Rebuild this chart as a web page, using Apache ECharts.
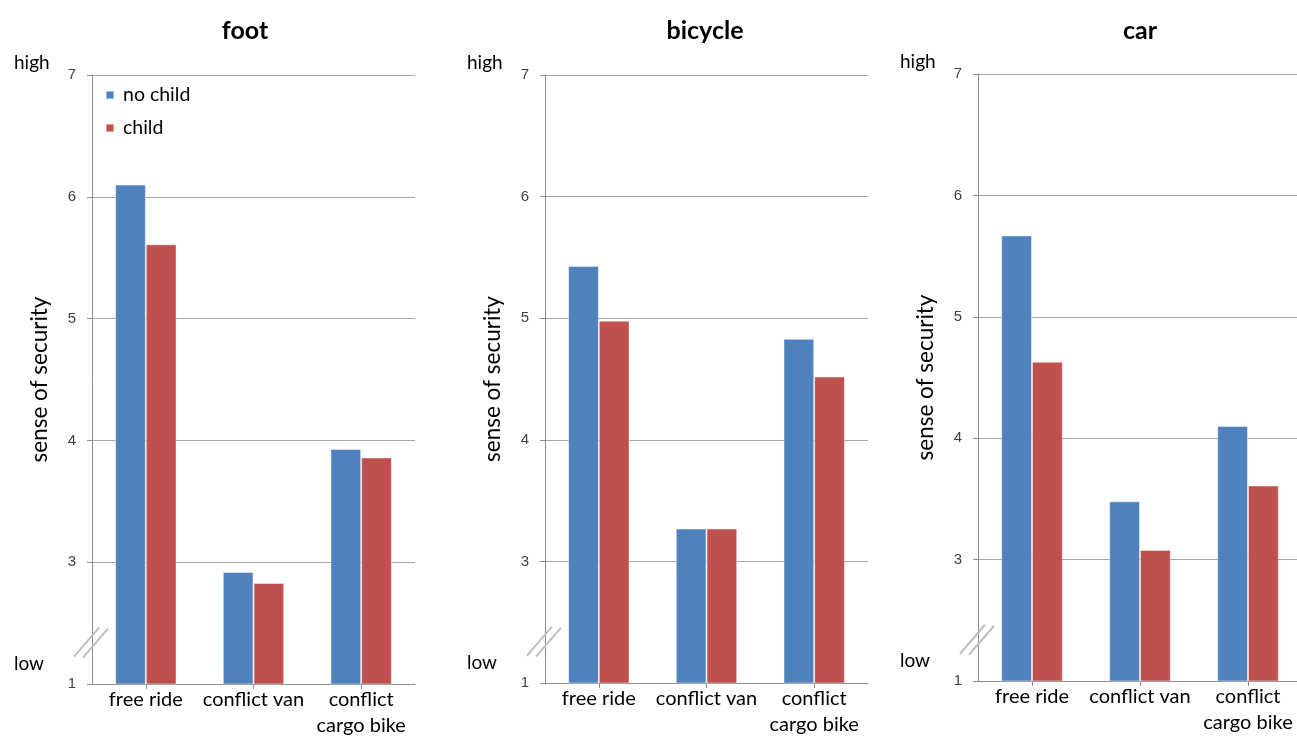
<!DOCTYPE html>
<html>
<head>
<meta charset="utf-8">
<script src="https://cdn.jsdelivr.net/npm/echarts@6/dist/echarts.min.js"></script>
<style>html,body{margin:0;padding:0;background:#fff;}#c{width:1297px;height:736px;}</style>
</head>
<body>
<div id="c"></div>
<script>
const categories = ['free ride', 'conflict van', 'conflict\ncargo bike'];
const panels = ['foot', 'bicycle', 'car'];
const seriesNames = ['no child', 'child'];
const footNoChild = [6.10, 2.92, 3.93];
const footChild = [5.61, 2.83, 3.86];
const bicycleNoChild = [5.43, 3.27, 4.83];
const bicycleChild = [4.98, 3.27, 4.52];
const carNoChild = [5.67, 3.48, 4.10];
const carChild = [4.63, 3.08, 3.61];
const yTicks = [2, 3, 4, 5, 6, 7];
const yTickLabels = ['1', '3', '4', '5', '6', '7'];

const values = [[footNoChild, footChild], [bicycleNoChild, bicycleChild], [carNoChild, carChild]];
const colors = ['#4F81BD', '#C0504D'];
const grids = [
  {left: 92, width: 323, top: 75, height: 609},
  {left: 545, width: 323, top: 75, height: 608},
  {left: 978, width: 324, top: 74, height: 607}
];
const titleCenters = [240, 700, 1135];
const FONT = 'Lato, "Open Sans", sans-serif';

const chart = echarts.init(document.getElementById('c'));
const option = {
  animation: false,
  backgroundColor: '#fff',
  title: panels.map((p, i) => ({
    text: p,
    left: titleCenters[i],
    top: 13,
    textAlign: 'center',
    textStyle: {fontFamily: FONT, fontSize: 25, fontWeight: 'bold', color: '#000'}
  })),
  legend: {
    data: seriesNames,
    orient: 'vertical',
    left: 100,
    top: 80,
    itemWidth: 8,
    itemHeight: 8,
    itemGap: 13,
    icon: 'rect',
    textStyle: {fontFamily: FONT, fontSize: 19.5, color: '#000', padding: [0, 0, 0, 4]}
  },
  grid: grids.map(g => Object.assign({containLabel: false, outerBoundsMode: 'none'}, g)),
  xAxis: panels.map((p, i) => ({
    type: 'category',
    gridIndex: i,
    data: categories,
    axisLine: {lineStyle: {color: '#8c8c8c', width: 1}},
    axisTick: {show: true, alignWithLabel: true, length: 5, lineStyle: {color: '#8c8c8c'}},
    axisLabel: {fontFamily: FONT, fontSize: 20, color: '#000', margin: 3, lineHeight: 26, interval: 0}
  })),
  yAxis: panels.map((p, i) => ({
    type: 'value',
    gridIndex: i,
    min: 2,
    max: 7,
    interval: 1,
    name: 'sense of security',
    nameLocation: 'middle',
    nameGap: 41,
    nameTextStyle: {fontFamily: FONT, fontSize: 22.5, color: '#000'},
    axisLine: {show: true, lineStyle: {color: '#8c8c8c', width: 1}},
    axisTick: {show: true, length: 5, lineStyle: {color: '#8c8c8c'}},
    splitLine: {lineStyle: {color: '#a6a6a6', width: 1}},
    axisLabel: {
      fontFamily: '"Liberation Sans", Arial, sans-serif', fontSize: 15, color: '#404040', margin: 16,
      formatter: v => yTickLabels[yTicks.indexOf(v)] ?? ''
    }
  })),
  series: []
};
panels.forEach((p, i) => {
  seriesNames.forEach((n, j) => {
    option.series.push({
      type: 'bar',
      name: n,
      xAxisIndex: i,
      yAxisIndex: i,
      data: values[i][j],
      barGap: '0%',
      barCategoryGap: '43%',
      itemStyle: {color: colors[j], borderColor: 'rgba(255,255,255,0.45)', borderWidth: 1}
    });
  });
});
chart.setOption(option);

// decorations: high/low labels and axis break marks
const graphics = [];
grids.forEach((g, i) => {
  const yTop = chart.convertToPixel({yAxisIndex: i}, 7);
  const yBot = chart.convertToPixel({yAxisIndex: i}, 2);
  const yBrk = chart.convertToPixel({yAxisIndex: i}, 2.34);
  graphics.push({type: 'text', left: g.left - 78, top: yTop - 22,
    style: {text: 'high', font: '19px ' + FONT, fill: '#000'}});
  graphics.push({type: 'text', left: g.left - 78, top: yBot - 30,
    style: {text: 'low', font: '19px ' + FONT, fill: '#000'}});
  [[-18, 0], [-9, 1]].forEach(([dx, dy]) => {
    graphics.push({type: 'line', shape: {x1: g.left + dx, y1: yBrk + 14 + dy, x2: g.left + dx + 25, y2: yBrk - 15 + dy},
      style: {stroke: '#bfbfbf', lineWidth: 2}, z: 100});
  });
});
chart.setOption({graphic: graphics});
</script>
</body>
</html>
